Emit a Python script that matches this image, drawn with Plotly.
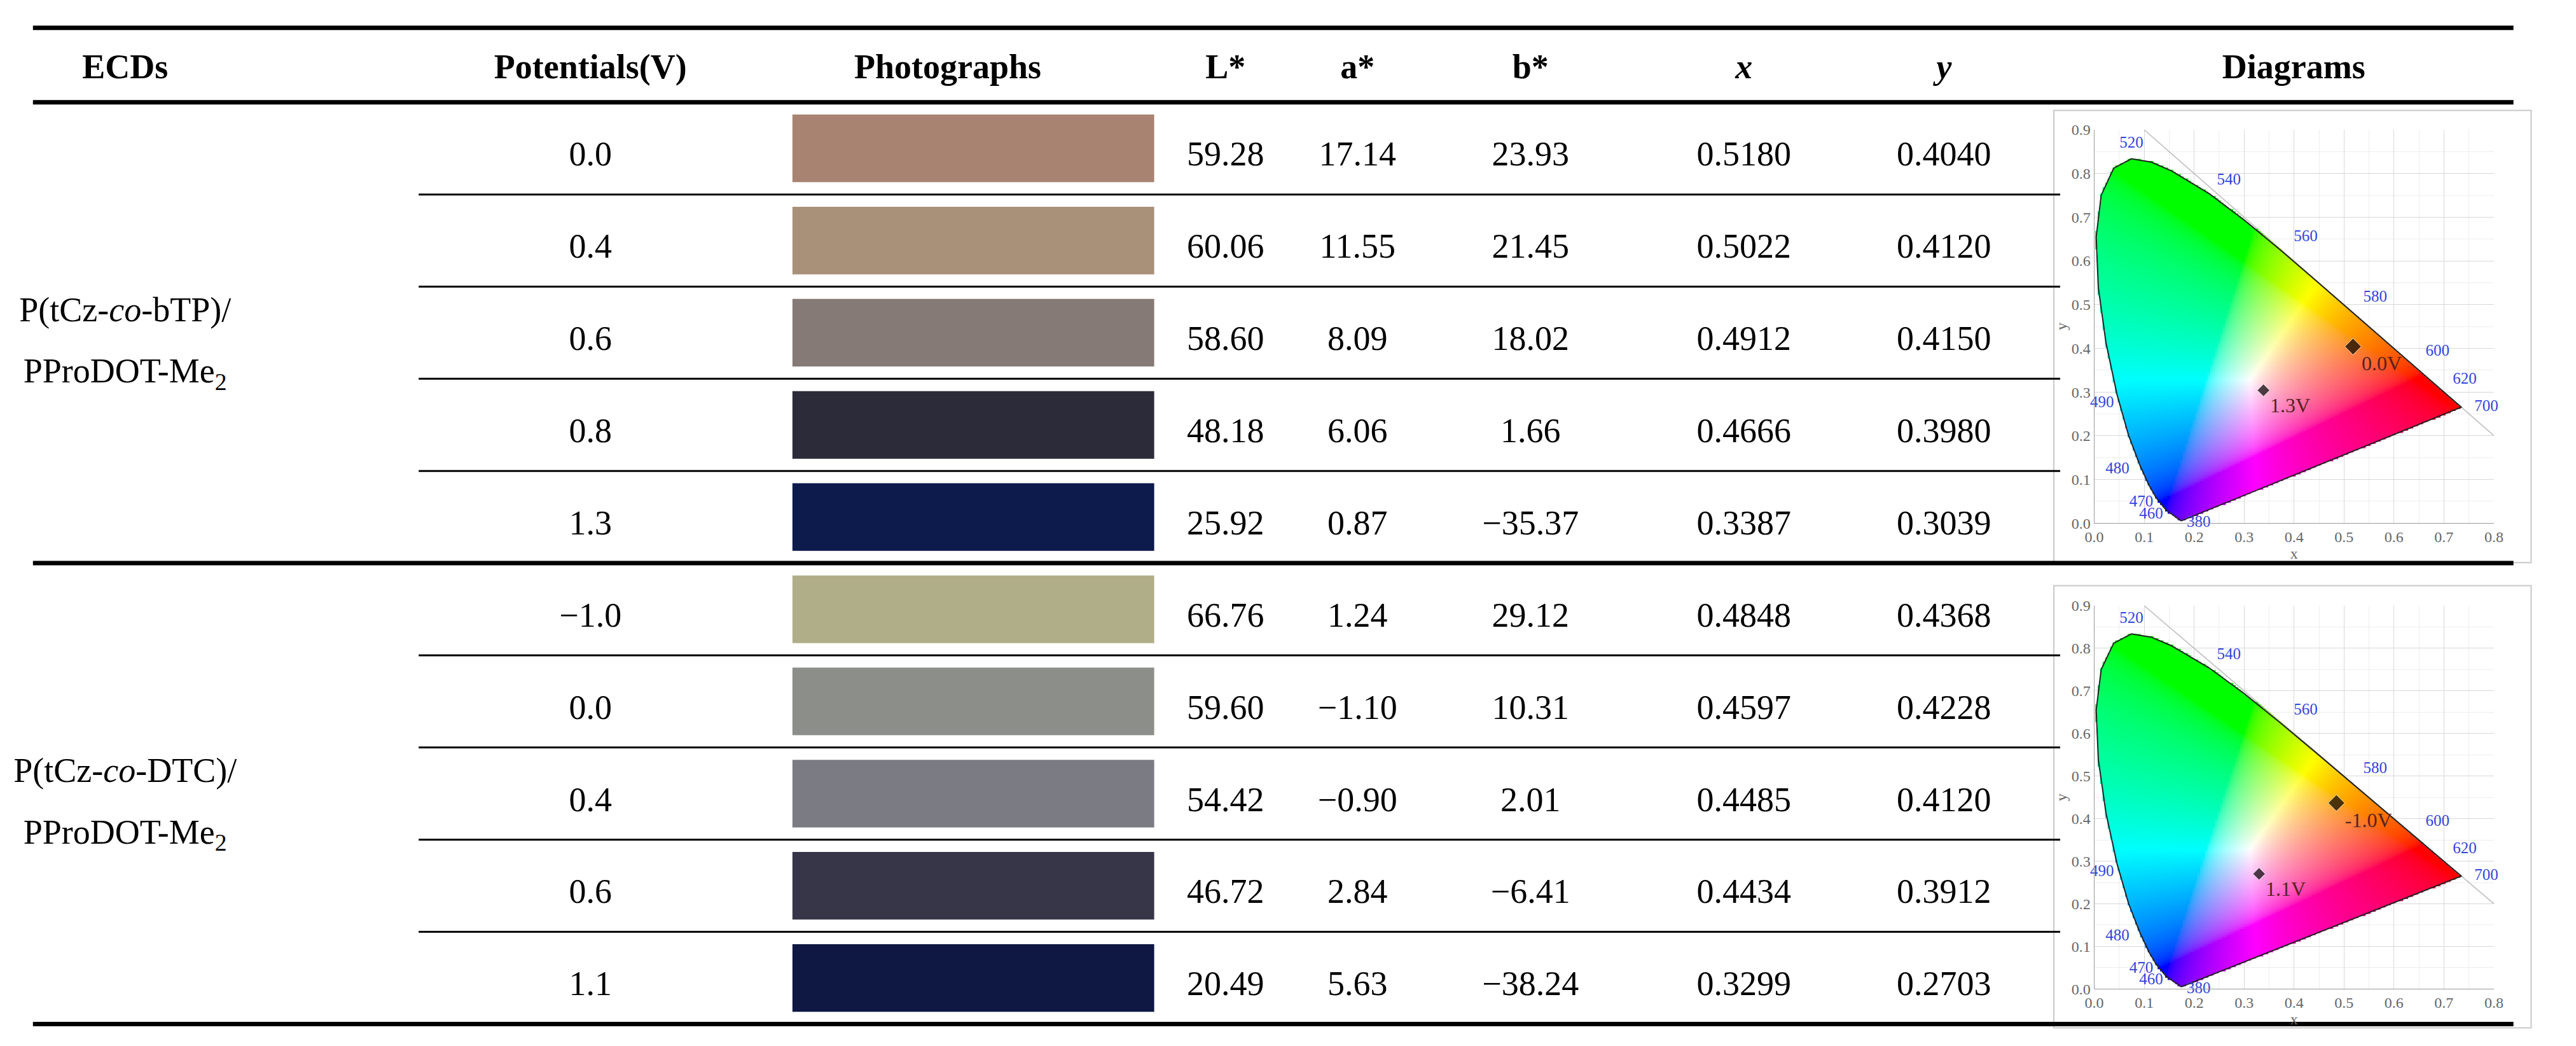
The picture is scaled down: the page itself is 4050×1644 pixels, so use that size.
import numpy as np
import plotly.graph_objects as go

# table data
device_line1 = ["P(tCz-<i>co</i>-bTP)/", "P(tCz-<i>co</i>-DTC)/"]
device_line2 = ["PProDOT-Me<sub>2</sub>", "PProDOT-Me<sub>2</sub>"]
potentials = ["0.0", "0.4", "0.6", "0.8", "1.3", "\u22121.0", "0.0", "0.4", "0.6", "1.1"]
swatch_colors = ["#a88372", "#a99179", "#867a76", "#2b2b3a", "#0d1a4c",
                 "#b0ad89", "#8c8f89", "#7b7c83", "#373548", "#0f1743"]
L_star = ["59.28", "60.06", "58.60", "48.18", "25.92", "66.76", "59.60", "54.42", "46.72", "20.49"]
a_star = ["17.14", "11.55", "8.09", "6.06", "0.87", "1.24", "\u22121.10", "\u22120.90", "2.84", "5.63"]
b_star = ["23.93", "21.45", "18.02", "1.66", "\u221235.37", "29.12", "10.31", "2.01", "\u22126.41", "\u221238.24"]
cie_x = [0.5180, 0.5022, 0.4912, 0.4666, 0.3387, 0.4848, 0.4597, 0.4485, 0.4434, 0.3299]
cie_y = [0.4040, 0.4120, 0.4150, 0.3980, 0.3039, 0.4368, 0.4228, 0.4120, 0.3912, 0.2703]
headers = ["ECDs", "Potentials(V)", "Photographs", "L*", "a*", "b*", "<i>x</i>", "<i>y</i>", "Diagrams"]

# diagram points: first and last state of each device
diag_pts = [(0, 4, "0.0V", "1.3V"), (5, 9, "-1.0V", "1.1V")]

# CIE 1931 spectral locus
wl = [380, 460, 470, 475, 480, 485, 490, 495, 500, 505, 510, 515, 520, 525, 530,
      540, 550, 560, 570, 580, 590, 600, 620, 640, 700]
loc_x = [0.1741, 0.1440, 0.1241, 0.1096, 0.0913, 0.0687, 0.0454, 0.0235, 0.0082, 0.0039,
         0.0139, 0.0389, 0.0743, 0.1142, 0.1547, 0.2296, 0.3016, 0.3731, 0.4441, 0.5125,
         0.5752, 0.6270, 0.6915, 0.7190, 0.7347]
loc_y = [0.0050, 0.0297, 0.0578, 0.0868, 0.1327, 0.2007, 0.2950, 0.4127, 0.5384, 0.6548,
         0.7502, 0.8120, 0.8338, 0.8262, 0.8059, 0.7543, 0.6923, 0.6245, 0.5547, 0.4866,
         0.4242, 0.3725, 0.3083, 0.2809, 0.2653]
wl_labels = {380: (0.035, -0.005), 460: (-0.03, -0.01), 470: (-0.03, -0.01), 480: (-0.045, -0.01),
             490: (-0.03, -0.02), 500: (-0.04, -0.02), 520: (0.0, 0.035), 540: (0.04, 0.03),
             560: (0.05, 0.03), 580: (0.05, 0.03), 600: (0.06, 0.02), 620: (0.05, 0.02), 700: (0.05, 0.0)}

FONT = "Liberation Serif"
col_x = [175, 912, 1478, 1918, 2127, 2401, 2739, 3056, 3610]
header_y = 90
table_top = 142
row_h = 147.2
row_y = [table_top + (i + 0.5) * row_h for i in range(10)]
text_y = [y + 14 for y in row_y]

fig = go.Figure()

# swatches as horizontal bars on the pixel axes
fig.add_trace(go.Bar(
    y=row_y, x=[573] * 10, base=[1232] * 10, orientation="h", width=108,
    marker=dict(color=swatch_colors, line=dict(width=0)), showlegend=False, hoverinfo="skip"))

# header
fig.add_trace(go.Scatter(
    x=col_x, y=[header_y] * len(headers), mode="text",
    text=[f"<b>{h}</b>" for h in headers], textfont=dict(family=FONT, size=54, color="black"),
    showlegend=False))

# body columns
for cx, vals in zip(col_x[1:2] + col_x[3:8], [potentials, L_star, a_star, b_star,
                                              [f"{v:.4f}" for v in cie_x], [f"{v:.4f}" for v in cie_y]]):
    fig.add_trace(go.Scatter(
        x=[cx] * 10, y=text_y, mode="text", text=vals,
        textfont=dict(family=FONT, size=54, color="black"), showlegend=False))

grp_mid = [table_top + 2.5 * row_h, table_top + 7.5 * row_h]
fig.add_trace(go.Scatter(
    x=[col_x[0]] * 4, y=[m - 32 for m in grp_mid] + [m + 66 for m in grp_mid], mode="text",
    text=device_line1 + device_line2, textfont=dict(family=FONT, size=54, color="black"),
    showlegend=False))

# table rules
shapes = []
for y, w in [(23, 7), (142, 7), (table_top + 5 * row_h, 7), (table_top + 10 * row_h, 7)]:
    shapes.append(dict(type="line", xref="x", yref="y", x0=29, x1=3958, y0=y, y1=y,
                       line=dict(color="black", width=w)))
for i in list(range(1, 5)) + list(range(6, 10)):
    y = table_top + i * row_h
    shapes.append(dict(type="line", xref="x", yref="y", x0=640, x1=3240, y0=y, y1=y,
                       line=dict(color="black", width=3)))
for y0, y1 in [(155, 877), (914, 1620)]:
    shapes.append(dict(type="rect", xref="x", yref="y", x0=3230, x1=3986, y0=y0, y1=y1,
                       line=dict(color="#c8c8c8", width=2), fillcolor="white", layer="below"))


# chromaticity fill
def inside(px, py, poly_x, poly_y):
    n = len(poly_x)
    res = np.zeros(px.shape, dtype=bool)
    j = n - 1
    for i in range(n):
        xi, yi, xj, yj = poly_x[i], poly_y[i], poly_x[j], poly_y[j]
        cond = ((yi > py) != (yj > py)) & (px < (xj - xi) * (py - yi) / (yj - yi + 1e-12) + xi)
        res ^= cond
        j = i
    return res


gx, gy = np.meshgrid(np.arange(0.0, 0.76, 0.005), np.arange(0.0, 0.85, 0.005))
gx, gy = gx.ravel(), gy.ravel()
m = inside(gx, gy, loc_x, loc_y)
gx, gy = gx[m], gy[m]
X = gx / gy
Z = (1 - gx - gy) / gy
rgb = np.stack([3.2406 * X - 1.5372 - 0.4986 * Z,
                -0.9689 * X + 1.8758 + 0.0415 * Z,
                0.0557 * X - 0.2040 + 1.0570 * Z], axis=1)
rgb = np.clip(rgb, 0, None)
rgb = rgb / rgb.max(axis=1, keepdims=True)
rgb = np.where(rgb <= 0.0031308, 12.92 * rgb, 1.055 * rgb ** (1 / 2.4) - 0.055)
fill_colors = [f"rgb({int(r*255)},{int(g*255)},{int(b*255)})" for r, g, b in rgb]

dom_x = [3294 / 4050, 3927 / 4050]
dom_y = [[1 - 814 / 1644, 1 - 186 / 1644], [1 - 1558 / 1644, 1 - 946 / 1644]]
for k, (i0, i1, lab0, lab1) in enumerate(diag_pts):
    xa, ya = f"x{k + 2}", f"y{k + 2}"
    fig.add_trace(go.Scatter(x=[0.1, 0.8], y=[0.9, 0.2], mode="lines", xaxis=xa, yaxis=ya,
                             line=dict(color="#bbbbbb", width=1.5), showlegend=False))
    fig.add_trace(go.Scatter(x=gx, y=gy, mode="markers", xaxis=xa, yaxis=ya,
                             marker=dict(symbol="square", size=5, color=fill_colors, line=dict(width=0)),
                             showlegend=False, hoverinfo="skip"))
    fig.add_trace(go.Scatter(x=loc_x + [loc_x[0]], y=loc_y + [loc_y[0]], mode="lines",
                             xaxis=xa, yaxis=ya, line=dict(color="#222222", width=2), showlegend=False))
    fig.add_trace(go.Scatter(x=[cie_x[i0], cie_x[i1]], y=[cie_y[i0], cie_y[i1]], mode="markers+text",
                             xaxis=xa, yaxis=ya, text=[lab0, lab1], textposition="bottom right",
                             textfont=dict(family=FONT, size=32, color="#552222"),
                             marker=dict(symbol="diamond", size=[20, 15], color="black"), showlegend=False))
    lx = [loc_x[wl.index(w)] + d[0] for w, d in wl_labels.items()]
    ly = [loc_y[wl.index(w)] + d[1] for w, d in wl_labels.items()]
    fig.add_trace(go.Scatter(x=lx, y=ly, mode="text", text=[str(w) for w in wl_labels],
                             xaxis=xa, yaxis=ya, textfont=dict(family=FONT, size=25, color="#3344dd"),
                             showlegend=False, cliponaxis=False))
    axis_common = dict(showgrid=True, gridcolor="#d8d8d8", gridwidth=1, zeroline=False,
                       showline=True, linecolor="#999999", ticks="", fixedrange=True,
                       tickfont=dict(family=FONT, size=24, color="#666666"),
                       minor=dict(showgrid=True, gridcolor="#eeeeee", dtick=0.05))
    fig.update_layout(**{
        f"xaxis{k + 2}": dict(domain=dom_x, anchor=ya, range=[0, 0.8], dtick=0.1, tickformat=".1f",
                              title=dict(text="x", font=dict(family=FONT, size=24, color="#666666"),
                                         standoff=0), **axis_common),
        f"yaxis{k + 2}": dict(domain=dom_y[k], anchor=xa, range=[0, 0.9], dtick=0.1, tickformat=".1f",
                              title=dict(text="y", font=dict(family=FONT, size=24, color="#666666"),
                                         standoff=0), **axis_common),
    })

fig.update_layout(
    width=4050, height=1644, margin=dict(l=0, r=0, t=0, b=0),
    plot_bgcolor="white", paper_bgcolor="white", shapes=shapes, showlegend=False,
    xaxis=dict(range=[0, 4050], visible=False, fixedrange=True),
    yaxis=dict(range=[1644, 0], visible=False, fixedrange=True),
)
fig.write_html("out.html")
